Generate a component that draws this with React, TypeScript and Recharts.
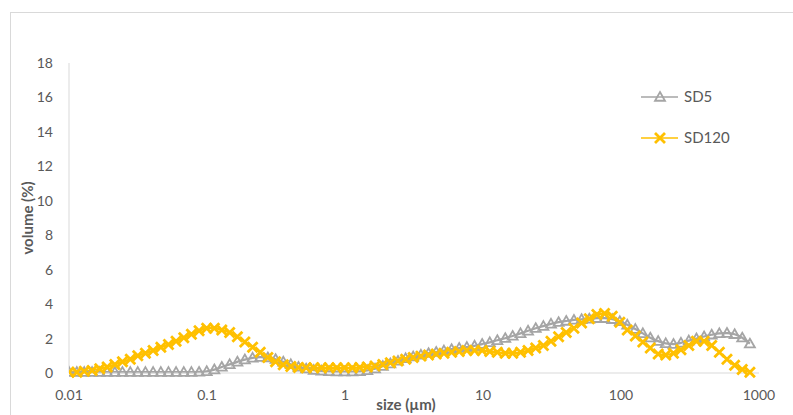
import { LineChart, Line, XAxis, YAxis, Legend } from "recharts";

// particle size classes (µm)
const sizes = [
  0.01, 0.0114, 0.0129, 0.0147, 0.0167, 0.0189, 0.0215, 0.0244, 0.0278, 0.0315,
  0.0358, 0.0407, 0.0463, 0.0526, 0.0597, 0.0679, 0.0771, 0.0876, 0.0995, 0.113,
  0.128, 0.146, 0.166, 0.188, 0.214, 0.243, 0.276, 0.314, 0.357, 0.405,
  0.46, 0.523, 0.594, 0.675, 0.767, 0.872, 0.991, 1.13, 1.28, 1.45,
  1.65, 1.88, 2.13, 2.42, 2.75, 3.12, 3.55, 4.03, 4.58, 5.21,
  5.92, 6.72, 7.64, 8.68, 9.86, 11.2, 12.7, 14.5, 16.4, 18.7,
  21.2, 24.1, 27.4, 31.1, 35.3, 40.1, 45.6, 51.8, 58.9, 66.9,
  76, 86.4, 98.1, 111, 127, 144, 163, 186, 211, 240,
  272, 310, 352, 400, 454, 516, 586, 666, 756, 859,
];

const sd5 = [
  0.05, 0.05, 0.05, 0.05, 0.05, 0.05, 0.05, 0.05, 0.05, 0.05,
  0.05, 0.05, 0.05, 0.05, 0.05, 0.05, 0.05, 0.06, 0.1, 0.2,
  0.35, 0.5, 0.65, 0.78, 0.88, 0.92, 0.9, 0.8, 0.65, 0.5,
  0.35, 0.25, 0.17, 0.12, 0.1, 0.08, 0.08, 0.08, 0.1, 0.15,
  0.25, 0.4, 0.55, 0.7, 0.85, 0.95, 1.05, 1.15, 1.22, 1.3,
  1.38, 1.45, 1.5, 1.58, 1.68, 1.78, 1.9, 2.02, 2.15, 2.3,
  2.45, 2.6, 2.72, 2.85, 2.95, 3.02, 3.08, 3.12, 3.15, 3.18,
  3.18, 3.12, 3.0, 2.8, 2.55, 2.3, 2.05, 1.85, 1.72, 1.68,
  1.75, 1.88, 2.0, 2.12, 2.22, 2.3, 2.32, 2.25, 2.05, 1.7,
];

const sd120 = [
  0.05, 0.05, 0.1, 0.15, 0.25, 0.35, 0.5, 0.65, 0.8, 1.0,
  1.15, 1.3, 1.5, 1.65, 1.85, 2.05, 2.25, 2.45, 2.6, 2.6,
  2.5, 2.35, 2.1, 1.8, 1.5, 1.2, 0.9, 0.65, 0.48, 0.38,
  0.32, 0.3, 0.3, 0.3, 0.3, 0.3, 0.3, 0.3, 0.32, 0.35,
  0.4, 0.5, 0.6, 0.7, 0.8, 0.9, 0.98, 1.05, 1.1, 1.15,
  1.2, 1.25, 1.3, 1.3, 1.3, 1.25, 1.2, 1.15, 1.15, 1.2,
  1.3, 1.45, 1.6, 1.85, 2.1, 2.35, 2.6, 2.9, 3.15, 3.4,
  3.45, 3.3, 2.95, 2.5, 2.15, 1.8, 1.45, 1.1, 1.05, 1.15,
  1.35, 1.6, 1.85, 1.85, 1.6, 1.2, 0.8, 0.45, 0.2, 0.05,
];

const xTicks = [0.01, 0.1, 1, 10, 100, 1000];
const yTicks = [0, 2, 4, 6, 8, 10, 12, 14, 16, 18];

const GRAY = "#A5A5A5";
const GOLD = "#FFC000";
const FONT = "Lato, 'Open Sans', sans-serif";

const data = sizes.map((s, i) => ({ size: s, sd5: sd5[i], sd120: sd120[i] }));

const TriDot = (props: any) => {
  const { cx, cy } = props;
  if (cx == null || cy == null) return null;
  const r = 5;
  return (
    <polygon
      points={`${cx},${cy - r} ${cx + r},${cy + r * 0.75} ${cx - r},${cy + r * 0.75}`}
      fill="none"
      stroke={GRAY}
      strokeWidth={1.8}
    />
  );
};

const XDot = (props: any) => {
  const { cx, cy } = props;
  if (cx == null || cy == null) return null;
  const r = 5;
  return (
    <path
      d={`M${cx - r},${cy - r}L${cx + r},${cy + r}M${cx - r},${cy + r}L${cx + r},${cy - r}`}
      stroke={GOLD}
      strokeWidth={2.8}
    />
  );
};

const LegendBox = () => (
  <svg width={150} height={70} style={{ fontFamily: FONT }}>
    <line x1={0} y1={12} x2={37} y2={12} stroke={GRAY} strokeWidth={1.5} />
    <TriDot cx={19} cy={12} />
    <text x={43} y={17} fontSize={15} fill="#595959">SD5</text>
    <line x1={0} y1={53} x2={37} y2={53} stroke={GOLD} strokeWidth={1.5} />
    <XDot cx={19} cy={53} />
    <text x={43} y={58} fontSize={15} fill="#595959">SD120</text>
  </svg>
);

const App = () => {
  return (
    <div
      style={{
        position: "absolute",
        left: 0,
        top: 0,
        width: 793,
        height: 415,
        overflow: "hidden",
        background: "#fff",
        fontFamily: FONT,
      }}
    >
      <div
        style={{
          position: "absolute",
          left: 10,
          top: 12,
          width: 800,
          height: 420,
          border: "1px solid #d9d9d9",
        }}
      />
      <LineChart
        width={793}
        height={415}
        data={data}
        margin={{ top: 63, right: 34, bottom: 0, left: 0 }}
        style={{ position: "absolute", left: 0, top: 0 }}
      >
        <XAxis
          dataKey="size"
          type="number"
          scale="log"
          domain={[0.01, 1000]}
          ticks={xTicks}
          allowDataOverflow
          height={42}
          tickLine={false}
          tickSize={0}
          tickMargin={17}
          stroke="#d9d9d9"
          tick={{ fill: "#595959", fontSize: 14, fontFamily: FONT }}
          label={{
            value: "size (µm)",
            position: "insideBottom",
            offset: 5,
            dx: -8,
            fill: "#595959",
            fontSize: 15,
            fontWeight: 700,
            fontFamily: FONT,
          }}
        />
        <YAxis
          type="number"
          domain={[0, 18]}
          ticks={yTicks}
          width={69}
          tickLine={false}
          tickSize={0}
          tickMargin={16}
          stroke="#d9d9d9"
          tick={{ fill: "#595959", fontSize: 14, fontFamily: FONT }}
          label={{
            value: "volume (%)",
            angle: -90,
            position: "insideLeft",
            offset: 28,
            textAnchor: "middle",
            fill: "#595959",
            fontSize: 15,
            fontWeight: 700,
            fontFamily: FONT,
          }}
        />
        <Legend
          layout="horizontal"
          verticalAlign="middle"
          align="center"
          content={() => <LegendBox />}
          wrapperStyle={{ left: 641, top: 85, width: 150, height: 70 }}
        />
        <Line
          dataKey="sd5"
          name="SD5"
          type="monotone"
          stroke={GRAY}
          strokeWidth={2.25}
          dot={<TriDot />}
          activeDot={false}
          isAnimationActive={false}
        />
        <Line
          dataKey="sd120"
          name="SD120"
          type="monotone"
          stroke={GOLD}
          strokeWidth={2.25}
          dot={<XDot />}
          activeDot={false}
          isAnimationActive={false}
        />
      </LineChart>
    </div>
  );
};

export default App;
